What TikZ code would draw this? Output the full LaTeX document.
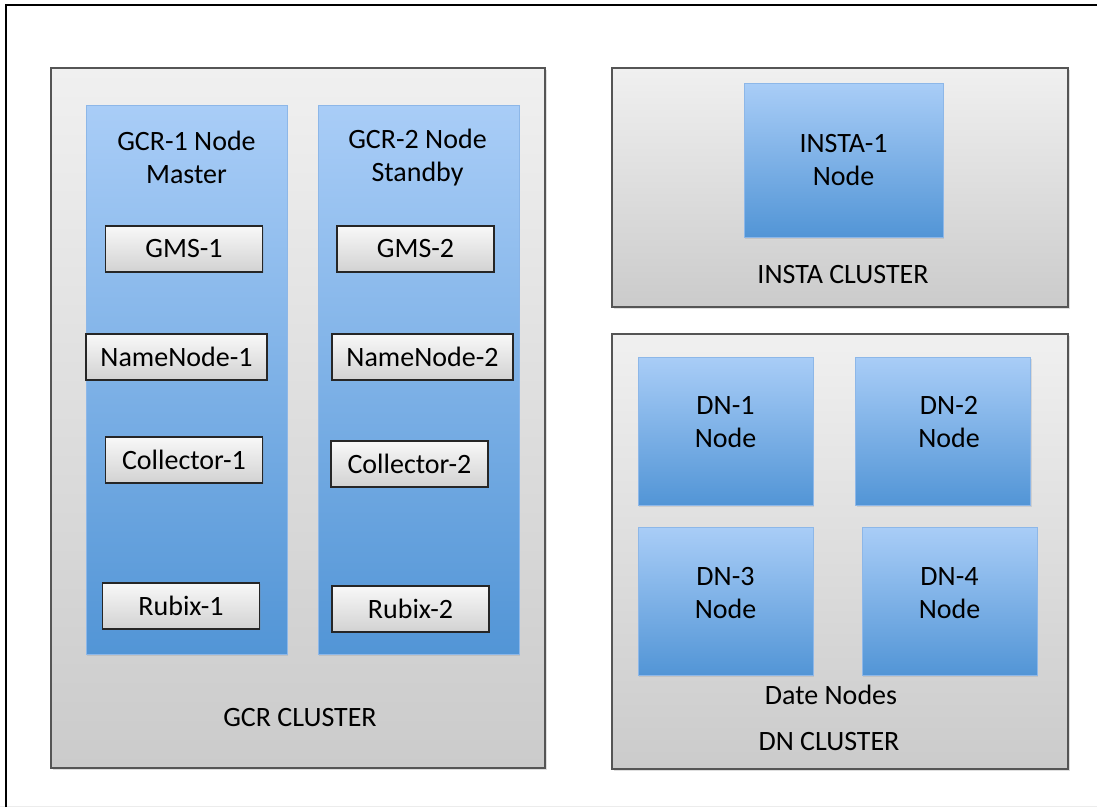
\documentclass[tikz,border=0pt]{standalone}
\usepackage{fontspec}
\setmainfont{Carlito}
\usepackage{xcolor}
\usepackage{tikz}
\usetikzlibrary{positioning,shadows}

\definecolor{clustertop}{HTML}{F0F0F0}
\definecolor{clusterbot}{HTML}{CBCBCB}
\definecolor{clusterline}{HTML}{555555}
\definecolor{hosttop}{HTML}{A9CDF7}
\definecolor{hostbot}{HTML}{5295D6}
\definecolor{hostline}{HTML}{8DB7E8}
\definecolor{svctop}{HTML}{F8F8F8}
\definecolor{svcbot}{HTML}{D2D2D2}

\begin{document}
\begin{tikzpicture}[x=1pt,y=-1pt,
    every node/.style={font=\fontsize{28}{33}\selectfont},
    cluster/.style={draw=clusterline,line width=2pt,top color=clustertop,bottom color=clusterbot,
        drop shadow={opacity=0.25,shadow xshift=1.5pt,shadow yshift=-1.5pt}},
    hostbox/.style={draw=hostline,line width=0.8pt,top color=hosttop,bottom color=hostbot,
        drop shadow={opacity=0.2,shadow xshift=1pt,shadow yshift=-1.5pt}},
    svcbox/.style={draw=black!85,line width=1.4pt,top color=svctop,bottom color=svcbot,
        minimum width=157,minimum height=46,inner sep=0pt,
        drop shadow={opacity=0.2,shadow xshift=1pt,shadow yshift=-1pt}},
    dnbox/.style={hostbox,minimum width=175,minimum height=148}]
    \useasboundingbox (0,0) rectangle (1097,807);

    % frame
    \draw[gray!15] (0,806) -- (1097,806);
    \draw[line width=2.6pt] (6,807) -- (6,5) -- (1097,5);

    % GCR cluster
    \node[cluster,minimum width=494,minimum height=700] (gcr) at (298,418) {};
    \node[hostbox,minimum width=201,minimum height=549] (gcrA) at (186.5,379.5) {};
    \node[hostbox,minimum width=201,minimum height=549] (gcrB) at (418.5,379.5) {};
    \node[align=center] (gcrAtitle) at (186.5,157) {GCR-1 Node\\Master};
    \node[align=center] (gcrBtitle) at (417.5,158) {GCR-2 Node\\Standby};

    \node[svcbox] (gms1) at (184,249) {GMS-1};
    \node[svcbox] (gms2) at (415.5,249) {GMS-2};
    \node[svcbox,minimum width=181] (nn1) at (176.5,357) {NameNode-1};
    \node[svcbox,minimum width=181] (nn2) at (422.5,357) {NameNode-2};
    \node[svcbox] (col1) at (184,460) {Collector-1};
    \node[svcbox] (col2) at (409.5,464) {Collector-2};
    \node[svcbox] (rbx1) at (181,606) {Rubix-1};
    \node[svcbox] (rbx2) at (410.5,609) {Rubix-2};

    \node (gcrlabel) at (300,718) {GCR CLUSTER};

    % INSTA cluster
    \node[cluster,minimum width=456,minimum height=239] (insta) at (840,187.5) {};
    \node[hostbox,minimum width=199,minimum height=154,align=center] (insta1) at (843.5,160) {INSTA-1\\Node};
    \node (instalabel) at (843,275) {INSTA CLUSTER};

    % DN cluster
    \node[cluster,minimum width=456,minimum height=435] (dn) at (840,551.5) {};
    \node[dnbox,label={[align=center,yshift=9pt]center:DN-1\\Node}] (dn1) at (725.5,431) {};
    \node[dnbox,label={[align=center,yshift=9pt,xshift=6pt]center:DN-2\\Node}] (dn2) at (943,431) {};
    \node[dnbox,label={[align=center,yshift=8pt]center:DN-3\\Node}] (dn3) at (725.5,601) {};
    \node[dnbox,label={[align=center,yshift=8pt]center:DN-4\\Node}] (dn4) at (949.5,601) {};
    \node (dnnodes) at (831,695) {Date Nodes};
    \node (dnlabel) at (829,742) {DN CLUSTER};

\end{tikzpicture}
\end{document}
